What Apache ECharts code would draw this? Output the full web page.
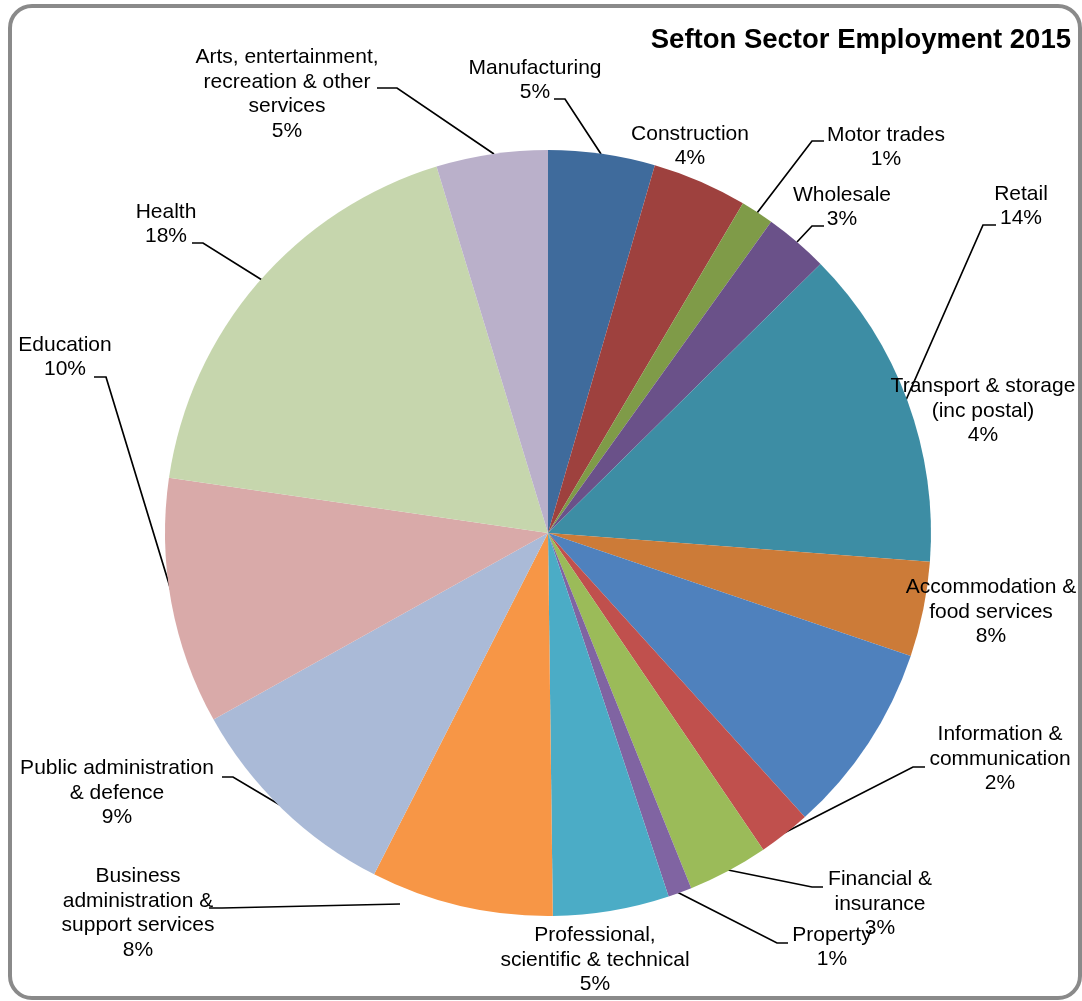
<!DOCTYPE html>
<html><head><meta charset="utf-8">
<script src="https://cdn.jsdelivr.net/npm/echarts@6/dist/echarts.min.js"></script>
<style>html,body{margin:0;padding:0;background:#fff}#c{width:1082px;height:1001px}</style>
</head><body><div id="c"></div>
<script>
// ---- data ----
const sectors = [
  'Manufacturing',
  'Construction',
  'Motor trades',
  'Wholesale',
  'Retail',
  'Transport & storage\n(inc postal)',
  'Accommodation &\nfood services',
  'Information &\ncommunication',
  'Financial &\ninsurance',
  'Property',
  'Professional,\nscientific & technical',
  'Business\nadministration &\nsupport services',
  'Public administration\n& defence',
  'Education',
  'Health',
  'Arts, entertainment,\nrecreation & other\nservices'
];
const employmentShare = [4.5, 4.0, 1.4, 2.7, 13.6, 4.0, 8.1, 2.2, 3.4, 1.0, 4.9, 7.7, 9.4, 10.4, 18.0, 4.7];
const chartTitle = 'Sefton Sector Employment 2015';

// ---- styles ----
const COLORS = ['#3F6B9C','#9E413E','#7F9B48','#6A5189','#3D8DA4','#CC7B38','#4F81BD','#C0504D',
                '#9BBB59','#8064A2','#4BACC6','#F79646','#AABAD7','#D9AAA9','#C6D6AD','#BAB0CA'];
// label anchor (centre of text block) and leader-line points
const LABEL_LAYOUT = [
  {x:535, y:80,  line:[[601,154],[565,99],[554,99]]},
  {x:690, y:146},
  {x:886, y:147, line:[[757,213],[812,141],[824,141]]},
  {x:842, y:207, line:[[797,242],[812,226],[824,226]]},
  {x:1021,y:206, line:[[906,400],[983,225],[996,225]]},
  {x:983, y:411},
  {x:991, y:612},
  {x:1000,y:759, line:[[784,833],[913,767],[925,767]]},
  {x:880, y:904, line:[[728,870],[812,887],[823,887]]},
  {x:832, y:947, line:[[677,892],[777,943],[788,943]]},
  {x:595, y:960},
  {x:138, y:913, line:[[400,904],[222,908],[209,908]]},
  {x:117, y:793, line:[[280,805],[233,777],[222,777]]},
  {x:65,  y:357, line:[[173,597],[106,377],[94,377]]},
  {x:166, y:224, line:[[262,280],[203,243],[192,243]]},
  {x:287, y:94,  line:[[494,154],[397,88],[377,88]]}
];
const FONT = '"Liberation Sans", Arial, Helvetica, sans-serif';

const chart = echarts.init(document.getElementById('c'), null, {renderer: 'canvas'});
const data = sectors.map((name, i) => ({
  name: name,
  value: employmentShare[i],
  itemStyle: {color: COLORS[i]},
  labelLine: {show: !!LABEL_LAYOUT[i].line}
}));

chart.setOption({
  backgroundColor: '#fff',
  animation: false,
  title: {
    text: chartTitle,
    right: 6, top: 21,
    textStyle: {fontFamily: FONT, fontSize: 27.5, fontWeight: 'bold', color: '#000'}
  },
  graphic: [{
    type: 'rect', silent: true, z: 100,
    shape: {x: 10, y: 6, width: 1070, height: 992, r: 22},
    style: {fill: 'none', stroke: '#8a8a8a', lineWidth: 4}
  }],
  series: [{
    type: 'pie',
    center: [548, 533],
    radius: 383,
    startAngle: 90,
    clockwise: true,
    avoidLabelOverlap: false,
    itemStyle: {borderWidth: 0},
    label: {
      show: true,
      position: 'outside',
      formatter: p => p.name + '\n' + Math.round(p.percent) + '%',
      fontFamily: FONT, fontSize: 21, lineHeight: 24.5, color: '#000',
      align: 'center'
    },
    labelLine: {show: true, lineStyle: {color: '#000', width: 1.7}, length: 10, length2: 10},
    labelLayout: function (params) {
      const L = LABEL_LAYOUT[params.dataIndex];
      const o = {x: L.x, y: L.y, align: 'center', verticalAlign: 'middle'};
      if (L.line) o.labelLinePoints = L.line;
      return o;
    },
    data: data
  }]
});
</script>
</body></html>
